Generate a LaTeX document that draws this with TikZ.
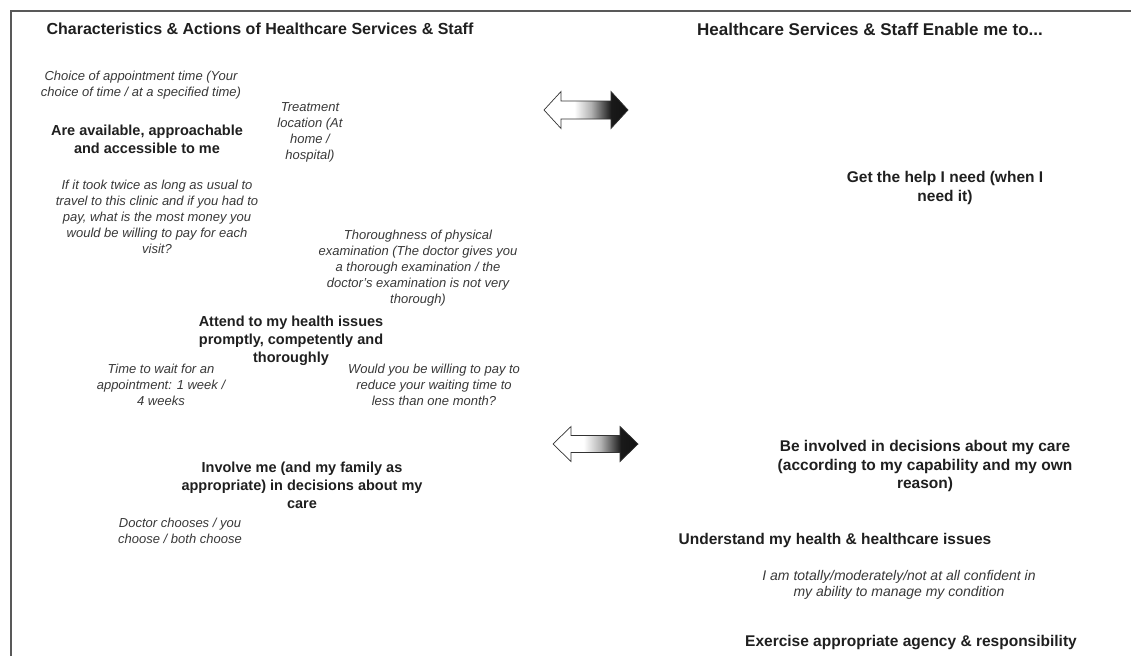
\documentclass[tikz,border=0pt]{standalone}
\usepackage{fontspec}
\setmainfont{Liberation Sans}
\pgfdeclarehorizontalshading{arrowfade}{100bp}{color(0bp)=(white); color(35bp)=(white); color(43bp)=(white); color(53bp)=(black!30); color(60bp)=(black!65); color(65bp)=(black!90); color(100bp)=(black)}
\begin{document}
\begin{tikzpicture}[x=1pt,y=-1pt,
    ltitle/.style={font=\fontsize{16}{19}\selectfont\bfseries,text=black!88,inner sep=0},
    rtitle/.style={font=\fontsize{17}{20}\selectfont\bfseries,text=black!88,inner sep=0},
    lgoal/.style={font=\fontsize{14.5}{18}\selectfont\bfseries,text=black!88,inner sep=0,align=center},
    rgoal/.style={font=\fontsize{15.5}{18.5}\selectfont\bfseries,text=black!88,inner sep=0,align=center},
    lnote/.style={font=\fontsize{13}{16}\selectfont\itshape,text=black!78,inner sep=0,align=center},
    rnote/.style={font=\fontsize{14}{16}\selectfont\itshape,text=black!78,inner sep=0,align=center},
    fatarrow/.style={shading=arrowfade,draw=black!80,line width=0.7pt,line join=miter}]
  \useasboundingbox (0,0) rectangle (1131,656);
  \draw[black!65,line width=1.3pt] (11,656)--(11,11)--(1131,11);

  % column headings
  \node[ltitle] (chars) at (260,29) {Characteristics \& Actions of Healthcare Services \& Staff};
  \node[rtitle] (enable) at (870,29) {Healthcare Services \& Staff Enable me to...};

  % left column
  \node[lnote] (apptime) at (141,85) {Choice of appointment time (Your\\choice of time / at a specified time)};
  \node[lnote] (location) at (310,132) {Treatment\\location (At\\home /\\hospital)};
  \node[lgoal] (avail) at (147,139) {Are available, approachable\\and accessible to me};
  \node[lnote] (travel) at (157,217) {If it took twice as long as usual to\\travel to this clinic and if you had to\\pay, what is the most money you\\would be willing to pay for each\\visit?};
  \node[lnote] (exam) at (418,268) {Thoroughness of physical\\examination (The doctor gives you\\a thorough examination / the\\doctor's examination is not very\\thorough)};
  \node[lgoal] (attend) at (291,341) {Attend to my health issues\\promptly, competently and\\thoroughly};
  \node[lnote] (wait) at (161,385) {Time to wait for an\\appointment: 1 week /\\4 weeks};
  \node[lnote] (paywait) at (434,385) {Would you be willing to pay to\\reduce your waiting time to\\less than one month?};
  \node[lgoal] (involve) at (302,485) {Involve me (and my family as\\appropriate) in decisions about my\\care};
  \node[lnote] (choose) at (180,531) {Doctor chooses / you\\choose / both choose};

  % right column
  \node[rgoal] (help) at (945,188) {Get the help I need (when I\\need it)};
  \node[rgoal] (decide) at (925,466) {Be involved in decisions about my care\\(according to my capability and my own\\reason)};
  \node[rgoal] (understand) at (835,540) {Understand my health \& healthcare issues};
  \node[rnote] (confident) at (899,585) {I am totally/moderately/not at all confident in\\my ability to manage my condition};
  \node[rgoal] (agency) at (911,643) {Exercise appropriate agency \& responsibility};

  % double arrows
  \shadedraw[fatarrow] (544,110)--++(17,-18.5)--++(0,9.5)--++(50,0)--++(0,-9.5)--++(17,18.5)
    --++(-17,18.5)--++(0,-9.5)--++(-50,0)--++(0,9.5)--cycle;
  \shadedraw[fatarrow] (553,444)--++(18,-17.5)--++(0,9)--++(49,0)--++(0,-9)--++(18,17.5)
    --++(-18,17.5)--++(0,-9)--++(-49,0)--++(0,9)--cycle;
\end{tikzpicture}
\end{document}
